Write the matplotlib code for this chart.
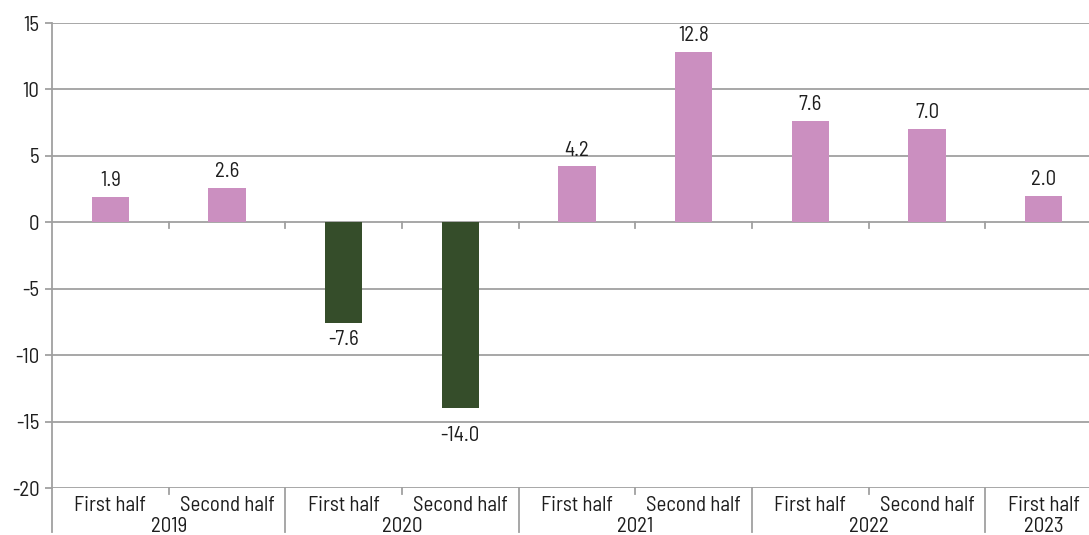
import matplotlib
matplotlib.use("Agg")
import matplotlib.pyplot as plt
import matplotlib.transforms as mtransforms

halves = ["First half", "Second half", "First half", "Second half", "First half",
          "Second half", "First half", "Second half", "First half"]
years = ["2019", "2020", "2021", "2022", "2023"]
year_span = [(0, 1), (2, 3), (4, 5), (6, 7), (8, 8)]
values = [1.9, 2.6, -7.6, -14.0, 4.2, 12.8, 7.6, 7.0, 2.0]
yticks = [15, 10, 5, 0, -5, -10, -15, -20]

pos_color = "#CB8FC0"
neg_color = "#354D2A"
grid_color = "#A0A0A0"
text_color = "#1E1E1E"
FS = 15

plt.rcParams['font.family'] = ["Barlow Semi Condensed", "DejaVu Sans"]

fig = plt.figure(figsize=(10.89, 5.35), dpi=100)
ax = fig.add_axes([52/1089, 47/535, 1050/1089, 465/535])

x = list(range(len(values)))
colors = [pos_color if v >= 0 else neg_color for v in values]
ax.bar(x, values, width=0.32, color=colors, zorder=3)

ax.set_xlim(-0.5, len(values) - 0.5)
ax.set_ylim(-20, 15)
ax.set_yticks(yticks)
ax.set_yticklabels([str(t) for t in yticks], fontsize=FS, color=text_color)
for t in yticks:
    ax.axhline(t, color=grid_color, lw=1.3, zorder=1)

for s in ["top", "right", "bottom"]:
    ax.spines[s].set_visible(False)
ax.spines["left"].set_color(grid_color)
ax.spines["left"].set_linewidth(1.3)
ax.spines["left"].set_bounds(-20, 15)
ax.tick_params(axis="y", length=5, color=grid_color, width=1.3, pad=4)

ax.set_xticks(x)
ax.set_xticklabels(halves, fontsize=FS, color=text_color)
ax.tick_params(axis="x", length=0, pad=5.5)

for xi, v in zip(x, values):
    if v >= 0:
        ax.annotate(f"{v:.1f}", (xi, v), xytext=(0, 5), textcoords="offset points",
                    ha="center", va="bottom", fontsize=FS, color=text_color)
    else:
        # keep negative labels clear of the gridline just below the bar end
        off = -5 if (v % 5) > 1.5 else -13
        ax.annotate(f"{v:.1f}", (xi, v), xytext=(0, off), textcoords="offset points",
                    ha="center", va="top", fontsize=FS, color=text_color)

trans = mtransforms.blended_transform_factory(ax.transData, ax.transAxes)
px = 1 / 465.0
for b in [i + 0.5 for i in range(len(values) - 1)]:
    ax.plot([b, b], [0, -0.4], color=grid_color, lw=1.3, zorder=2)

year_bounds = [1.5, 3.5, 5.5, 7.5]
inner_bounds = [0.5, 2.5, 4.5, 6.5]
for b in inner_bounds:
    ax.plot([b, b], [0, -6 * px], transform=trans, color=grid_color, lw=1.3, clip_on=False)
for b in year_bounds + [-0.5]:
    ax.plot([b, b], [0, -44 * px], transform=trans, color=grid_color, lw=1.3, clip_on=False)

for yl, (a, b) in zip(years, year_span):
    ax.text((a + b) / 2, -38.5 * px, yl, transform=trans, ha="center", va="center",
            fontsize=FS, color=text_color)

fig.savefig("out.png", dpi=100)
